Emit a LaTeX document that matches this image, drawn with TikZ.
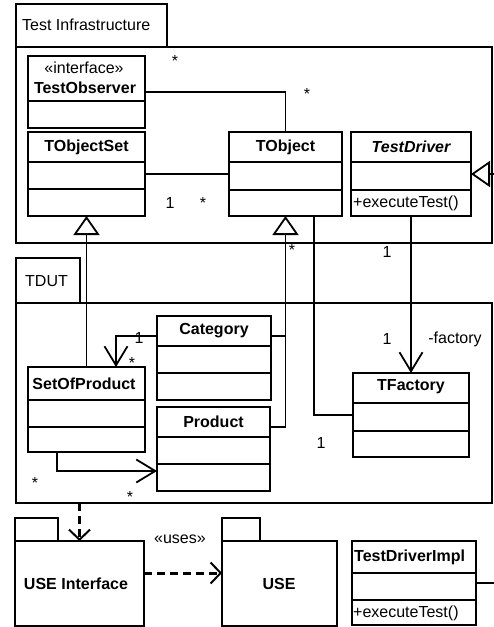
\documentclass[tikz,border=0pt]{standalone}
\usepackage{fontspec}
\setmainfont{Liberation Sans}
\usetikzlibrary{arrows.meta,calc}
\newcommand\divline[2]{\draw[conn] ($(#1.north west)+(0,#2)$) -- ($(#1.north east)+(0,#2)$);}
\tikzset{
  conn/.style={line width=1.8pt},
  box/.style={draw, line width=1.8pt, inner sep=0pt, outer sep=0pt, anchor=north west},
  txt/.style={inner sep=0pt, font=\fontsize{16}{19}\selectfont},
  ttl/.style={inner sep=0pt, font=\fontsize{16}{19}\selectfont\bfseries},
  gen/.style={conn, -{Triangle[open, length=19pt, width=26pt, line width=1.8pt]}},
  assoc/.style={conn, line join=miter, -{Straight Barb[length=19pt, width=23pt, line width=1.8pt]}},
  dep/.style={line width=3pt, dash pattern=on 8pt off 5pt, -{Straight Barb[length=10pt, width=21pt, line width=2pt]}},
}
\begin{document}
\begin{tikzpicture}[x=1pt, y=-1pt]
\useasboundingbox (0,0) rectangle (494,627);
% packages
\node[box, minimum width=151pt, minimum height=43pt] (titab) at (16,4) {};
\node[box, minimum width=476pt, minimum height=196pt] (ti) at (16,47) {};
\node[txt, anchor=west] (tilbl) at (22,25) {Test Infrastructure};
\node[box, minimum width=64pt, minimum height=45pt] (tduttab) at (16,258) {};
\node[box, minimum width=476pt, minimum height=200pt] (tdut) at (16,303) {};
\node[txt, anchor=west] (tdutlbl) at (25,281) {TDUT};
\node[box, minimum width=43pt, minimum height=23pt] (useitab) at (15,518) {};
\node[box, minimum width=129pt, minimum height=85pt] (usei) at (15,541) {};
\node[ttl] (useilbl) at (76,584) {USE Interface};
\node[box, minimum width=38pt, minimum height=23pt] (usetab) at (222,518) {};
\node[box, minimum width=115pt, minimum height=85pt] (use) at (222,541) {};
\node[ttl] (uselbl) at (279,584) {USE};
% classes
\node[box, minimum width=117pt, minimum height=72pt] (tobs) at (28,56) {};
\divline{tobs}{45}
\node[txt] (tobsst) at (84,68) {«interface»};
\node[ttl] (tobsn) at (85,88) {TestObserver};

\node[box, minimum width=117pt, minimum height=84pt] (tset) at (28,132) {};
\divline{tset}{30}\divline{tset}{57}
\node[ttl] (tsetn) at (86.5,147) {TObjectSet};

\node[box, minimum width=113pt, minimum height=84pt] (tobj) at (229,132) {};
\divline{tobj}{30}\divline{tobj}{58}
\node[ttl] (tobjn) at (285.5,147) {TObject};

\node[box, minimum width=120pt, minimum height=84pt] (tdrv) at (351,132) {};
\divline{tdrv}{30}\divline{tdrv}{58}
\node[ttl, font=\fontsize{16}{19}\selectfont\bfseries\itshape] (tdrvn) at (411,147) {TestDriver};
\node[txt, anchor=west] (tdrvop) at (353,203) {+executeTest()};

\node[box, minimum width=114pt, minimum height=84pt] (cat) at (157,316) {};
\divline{cat}{30}\divline{cat}{57}
\node[ttl] (catn) at (214,331) {Category};

\node[box, minimum width=113pt, minimum height=84pt] (prod) at (157,407) {};
\divline{prod}{30}\divline{prod}{57}
\node[ttl] (prodn) at (213.5,422) {Product};

\node[box, minimum width=117pt, minimum height=85pt] (sop) at (28,367) {};
\divline{sop}{33}\divline{sop}{60}
\node[ttl] (sopn) at (84,384) {SetOfProduct};

\node[box, minimum width=116pt, minimum height=84pt] (tfac) at (353,373) {};
\divline{tfac}{30}\divline{tfac}{58}
\node[ttl] (tfacn) at (411,387) {TFactory};

\node[box, minimum width=124pt, minimum height=84pt] (tdimpl) at (352,541) {};
\divline{tdimpl}{32}\divline{tdimpl}{59}
\node[ttl, anchor=west] (tdimpln) at (354,557) {TestDriverImpl};
\node[txt, anchor=west] (tdimplop) at (353,613) {+executeTest()};

% connectors
\draw[conn] (tobs.east) -| (tobj.north);
\draw[conn] (tset.east) -- (tobj.west);
\draw[gen] (sop.north) -- (tset.south);
\coordinate (pj) at ($(prod.north east)+(0,20)$);
\coordinate (cj) at ($(cat.north east)+(0,20)$);
\draw[gen] (pj) -| (tobj.south);
\draw[conn] (cj) -- (cj -| tobj.south);
\coordinate (tobjb) at ($(tobj.south east)+(-28,0)$);
\draw[conn] (tobjb) |- (tfac.west);
\draw[assoc] (tdrv.south) -- (tfac.north);
\coordinate (cjl) at ($(cat.north west)+(0,20)$);
\coordinate (sopt) at ($(sop.north east)+(-29,0)$);
\draw[assoc] (cjl) -| (sopt);
\coordinate (sopb) at ($(sop.south west)+(29,0)$);
\coordinate (prodl) at ($(prod.south west)+(0,-20)$);
\draw[assoc] (sopb) |- (prodl);
\coordinate (genout) at (494,174);
\draw[gen] (genout) -- (tdrv.east);
\coordinate (implout) at (494,583);
\draw[conn] (tdimpl.east) -- (implout);
\draw[dep] (usei.north |- tdut.south) -- (usei.north);
\coordinate (usesa) at ($(usei.north east)+(0,32)$);
\draw[dep] (usesa) -- (usesa -| use.west);
% labels
\node[txt] (l1) at (175,61) {*};
\node[txt] (l2) at (307,94) {*};
\node[txt] (l3) at (170,203) {1};
\node[txt] (l4) at (203,203) {*};
\node[txt] (l5) at (292,250) {*};
\node[txt] (l6) at (387,252) {1};
\node[txt] (l7) at (387,339) {1};
\node[txt] (l8) at (455,339) {-factory};
\node[txt] (l9) at (139,338) {1};
\node[txt] (l10) at (132,363) {*};
\node[txt] (l11) at (35,483) {*};
\node[txt] (l12) at (130,497) {*};
\node[txt] (l13) at (321,443) {1};
\node[txt] (l14) at (180,539) {«uses»};
\end{tikzpicture}
\end{document}
